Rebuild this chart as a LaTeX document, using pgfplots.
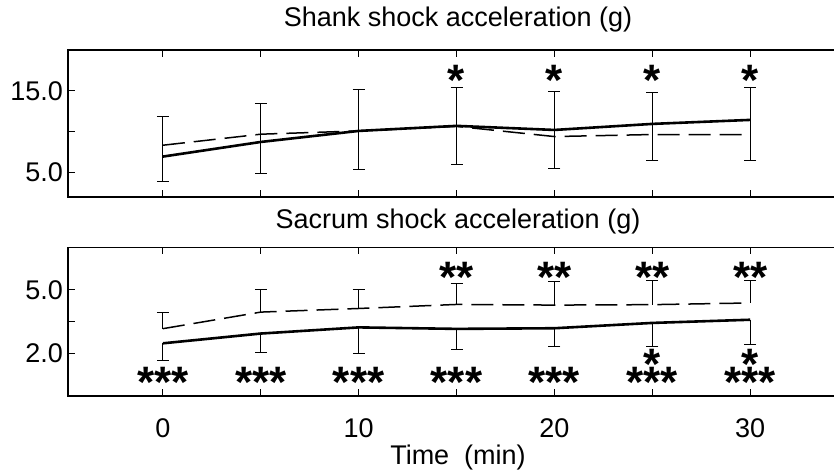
\documentclass[border=0pt]{standalone}
\usepackage{fontspec}
\setmainfont{Liberation Sans}
\usepackage{pgfplots}
\pgfplotsset{compat=1.18}

\pgfplotsset{
  panel/.style={
    scale only axis,
    width=780bp,
    xmin=-4.85, xmax=35,
    clip=false,
    axis line style={line width=1.2bp},
    every tick/.style={line width=1bp, black},
    major tick length=7bp,
    tick align=inside,
    xtick={0,5,...,30},
    font=\fontsize{27bp}{31bp}\selectfont,
    yticklabel style={anchor=east, inner sep=0pt, xshift=-5bp},
    xticklabel style={anchor=north, inner sep=0pt, yshift=-22bp},
    title style={at={(0.5,1)}, anchor=base, inner sep=0pt},
    /pgf/number format/assume math mode=true,
  },
  meanline/.style={black, line width=2.6bp, line join=round},
  refline/.style={black, line width=1.5bp, dash pattern=on 22bp off 9bp},
  sdbars/.style={
    error bars/.cd,
      y dir=#1, y explicit,
      error bar style={line width=1bp, black, solid},
      error mark options={rotate=90, line width=1bp, black, mark size=6bp, solid},
  },
  % significance markers; a stacked pair is one node with tight lines
  stars/.style={
    draw=none,
    nodes near coords,
    point meta=explicit symbolic,
    nodes near coords style={
      font=\fontsize{44bp}{17.5bp}\selectfont\bfseries,
      execute at begin node={\lineskiplimit=-100bp\relax},
      align=center,
      anchor=north, inner sep=0pt, yshift=7bp, black},
  },
}

\begin{document}
\begin{tikzpicture}
\path[use as bounding box] (0bp,0bp) rectangle (834bp,472bp);
\clip (0bp,0bp) rectangle (834bp,472bp);

% Shank
\begin{axis}[panel,
  at={(68bp,275bp)}, anchor=south west,
  height=147bp,
  ymin=2, ymax=20,
  ytick={5,10,15}, yticklabels={5.0,,15.0},
  xticklabels={},
  title={Shank shock acceleration (g)},
  title style={yshift=18bp},
]
\addplot[refline] table {
t   g
0   8.34
5   9.69
10  10.09
15  10.65
20  9.40
25  9.65
30  9.65
};
\addplot[meanline, sdbars=both] table[y error plus=ep, y error minus=em] {
t   g      ep    em
0   6.95   4.91  3.00
5   8.74   4.75  3.84
10  10.09  5.03  4.70
15  10.71  4.66  4.74
20  10.21  4.75  4.73
25  10.95  3.85  4.54
30  11.44  4.01  5.03
};
\addplot[stars] table[meta=s] {
t   g      s
15  17.33  *
20  17.33  *
25  17.33  *
30  17.33  *
};
\end{axis}

% Sacrum
\begin{axis}[panel,
  at={(68bp,76bp)}, anchor=south west,
  height=148.7bp,
  ymin=0, ymax=7,
  ytick={2,3.5,5}, yticklabels={2.0,,5.0},
  xticklabels={0,,10,,20,,30},
  title={Sacrum shock acceleration (g)},
  title style={yshift=13bp},
  xlabel={Time\ \ (min)},
  xlabel style={at={(0.5,0)}, anchor=base, inner sep=0pt, yshift=-68bp},
]
\addplot[refline, sdbars=plus] table[y error plus=ep] {
t   g     ep
0   3.17  0.74
5   3.95  1.08
10  4.12  0.91
15  4.31  1.00
20  4.28  1.11
25  4.30  1.14
30  4.38  1.06
};
\addplot[meanline, sdbars=minus] table[y error minus=em] {
t   g     em
0   2.48  0.81
5   2.94  0.91
10  3.23  1.23
15  3.16  0.97
20  3.19  0.88
25  3.44  1.10
30  3.59  1.15
};
\addplot[stars] table[meta=s] {
t   g     s
15  5.97  **
20  5.97  **
25  5.97  **
30  5.97  **
0   1.02  ***
5   1.02  ***
10  1.02  ***
15  1.02  ***
20  1.02  ***
25  1.86  *\\***
30  1.86  *\\***
};
\end{axis}
\end{tikzpicture}
\end{document}
